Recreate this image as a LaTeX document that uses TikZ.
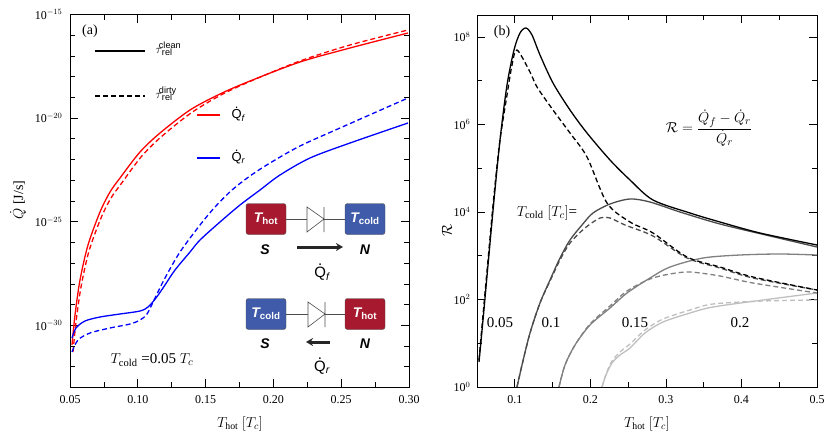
\documentclass[tikz,border=0pt]{standalone}
\usepackage{fontspec}
\usetikzlibrary{arrows.meta}
\setmainfont{Liberation Serif}
\newfontfamily\arial{Liberation Sans}
\begin{document}
\begin{tikzpicture}[x=1pt,y=-1pt,
  frame/.style={line width=0.9pt},
  tk/.style={line width=0.7pt},
  crv/.style={line width=1.3pt},
  dsh/.style={line width=1.3pt,dash pattern=on 5pt off 3pt},
  lbl/.style={font=\fontsize{12}{12}\selectfont},
  sans/.style={font=\arial\fontsize{13}{13}\selectfont},
  tbox/.style={draw=black!70,rounded corners=2.5pt,minimum width=40pt,minimum height=31pt,inner sep=0pt,text=white,font=\arial\bfseries\fontsize{14}{14}\selectfont}]
\useasboundingbox (0,0) rectangle (830,445);
\definecolor{bred}{HTML}{A6192E}
\definecolor{bblue}{HTML}{3F5BA9}
% ---------- panel a ----------
\foreach \k in {0,...,10}{
  \pgfmathsetmacro\xx{70+\k*33.9}
  \pgfmathsetmacro\ll{mod(\k,2)==0?8:5}
  \draw[tk] (\xx,387) -- ++(0,-\ll);
  \draw[tk] (\xx,14.5) -- ++(0,\ll);}
\foreach \k/\t in {0/0.05,2/0.10,4/0.15,6/0.20,8/0.25,10/0.30}
  \node[lbl] (ax\k) at (70+\k*33.9,400) {\t};
\foreach \k in {0,...,18}{
  \pgfmathsetmacro\yy{14.5+\k*20.72}
  \pgfmathsetmacro\ll{mod(\k,5)==0?8:5}
  \draw[tk] (70,\yy) -- ++(\ll,0);
  \draw[tk] (409,\yy) -- ++(-\ll,0);}
\foreach \k/\e in {0/15,5/20,10/25,15/30}
  \node[lbl,anchor=east] (ay\k) at (66,14.5+\k*20.72) {10$^{-\e}$};
\draw[frame] (70,14.5) rectangle (409,387);
\node[lbl,font=\fontsize{14}{14}\selectfont] (axl) at (240,424) {$T_{\rm hot}$ $[T_c]$};
\node[lbl,font=\fontsize{14}{14}\selectfont,rotate=90] (ayl) at (18,200) {$\dot{Q}$ [J/s]};
\node[lbl,font=\fontsize{14}{14}\selectfont] (pa) at (90,31) {(a)};
\begin{scope}
\clip (70,14.5) rectangle (409,387);
\draw[crv,red] plot[smooth] coordinates {(72,345)(75,315)(80,280)(88,245)(100,212)(110,192)(120,178)(140,152)(160,133)(190,110)(220,94)(250,81)(300,62)(350,48)(408,33)};
\draw[dsh,red] plot[smooth] coordinates {(73,352)(76,322)(81,287)(89,251)(101,218)(111,198)(121,184)(141,157)(161,137)(191,113)(221,95)(251,81)(300,61)(350,45)(408,30)};
\draw[crv,blue] plot[smooth] coordinates {(72,338)(76,328)(85,321)(100,317)(120,314)(140,311)(148,307)(156,298)(165,285)(175,270)(190,252)(200,240)(220,222)(240,205)(260,190)(280,175)(310,158)(350,143)(408,123)};
\draw[dsh,blue] plot[smooth] coordinates {(72,352)(78,340)(90,333)(110,328)(130,324)(140,320)(147,314)(155,298)(165,278)(180,252)(200,225)(215,207)(232,190)(250,176)(270,163)(300,146)(340,128)(408,98)};
\end{scope}
\coordinate (l1a) at (95,51); \coordinate (l1b) at (145,51);
\draw[crv] (l1a) -- (l1b);
\node[sans,anchor=west] (t1) at (152,49) {$\tau$\textsubscript{rel}\kern-1.05em\textsuperscript{clean}};
\coordinate (l2a) at (95,96); \coordinate (l2b) at (145,96);
\draw[dsh,black] (l2a) -- (l2b);
\node[sans,anchor=west] (t2) at (152,94) {$\tau$\textsubscript{rel}\kern-1.05em\textsuperscript{dirty}};
\coordinate (l3a) at (197,115); \coordinate (l3b) at (220,115);
\draw[crv,red] (l3a) -- (l3b);
\node[sans,anchor=west] (t3) at (228,114) {Q\llap{\raisebox{0.8em}{.}\kern0.25em}\textsubscript{\itshape f}};
\coordinate (l4a) at (197,158); \coordinate (l4b) at (220,158);
\draw[crv,blue] (l4a) -- (l4b);
\node[sans,anchor=west] (t4) at (228,157) {Q\llap{\raisebox{0.8em}{.}\kern0.25em}\textsubscript{\itshape r}};
\node[lbl,font=\fontsize{15}{15}\selectfont] (tc) at (152,360) {$T_{\rm cold}$ =0.05 $T_c$};
% inset
\node[tbox,fill=bred] (h1) at (266,219) {\itshape T\textsubscript{\upshape hot}};
\node[tbox,fill=bblue] (c1) at (365,219) {\itshape T\textsubscript{\upshape cold}};
\coordinate (d1a) at (307,219); \coordinate (d1b) at (324,219);
\draw[black!70,line width=0.6pt] (h1) -- (d1a) (d1b) -- (c1);
\draw[black!70,line width=0.6pt] (307,207) -- (324,219) -- (307,232) -- cycle (324,207) -- (324,232);
\node[sans,font=\arial\bfseries\itshape\fontsize{14}{14}\selectfont] (s1) at (265,250) {S};
\node[sans,font=\arial\bfseries\itshape\fontsize{14}{14}\selectfont] (n1) at (365,250) {N};
\coordinate (ar1a) at (297,247); \coordinate (ar1b) at (343,247);
\draw[line width=3pt,-{Stealth[length=7pt,width=8pt]},black!85] (ar1a) -- (ar1b);
\node[sans,font=\arial\fontsize{15}{15}\selectfont] (qf) at (322,272) {Q\llap{\raisebox{0.8em}{.}\kern0.25em}\textsubscript{\itshape f}};
\node[tbox,fill=bblue] (c2) at (266,314) {\itshape T\textsubscript{\upshape cold}};
\node[tbox,fill=bred] (h2) at (365,314) {\itshape T\textsubscript{\upshape hot}};
\coordinate (d2a) at (308,314); \coordinate (d2b) at (325,314);
\draw[black!70,line width=0.6pt] (c2) -- (d2a) (d2b) -- (h2);
\draw[black!70,line width=0.6pt] (308,302) -- (325,314) -- (308,327) -- cycle (325,302) -- (325,327);
\node[sans,font=\arial\bfseries\itshape\fontsize{14}{14}\selectfont] (s2) at (265,344) {S};
\node[sans,font=\arial\bfseries\itshape\fontsize{14}{14}\selectfont] (n2) at (365,344) {N};
\coordinate (ar2a) at (330,342); \coordinate (ar2b) at (306,342);
\draw[line width=3pt,-{Stealth[length=7pt,width=8pt]},black!85] (ar2a) -- (ar2b);
\node[sans,font=\arial\fontsize{15}{15}\selectfont] (qr) at (322,366) {Q\llap{\raisebox{0.8em}{.}\kern0.25em}\textsubscript{\itshape r}};
% ---------- panel b ----------
\foreach \k in {0,...,9}{
  \pgfmathsetmacro\xx{477+\k*37.78}
  \pgfmathsetmacro\ll{mod(\k,2)==1?8:5}
  \draw[tk] (\xx,387) -- ++(0,-\ll);
  \draw[tk] (\xx,15) -- ++(0,\ll);}
\foreach \k/\t in {1/0.1,3/0.2,5/0.3,7/0.4,9/0.5}
  \node[lbl] (bx\k) at (477+\k*37.78,400) {\t};
\foreach \k in {0,...,8}{
  \pgfmathsetmacro\yy{387-\k*43.75}
  \pgfmathsetmacro\ll{mod(\k,2)==0?8:5}
  \draw[tk] (477,\yy) -- ++(\ll,0);
  \draw[tk] (817,\yy) -- ++(-\ll,0);}
\foreach \k in {0,2,4,6,8}
  \node[lbl,anchor=east] (by\k) at (474,387-\k*43.75) {10$^{\k}$};
\draw[frame] (477,15) rectangle (817,387);
\node[lbl,font=\fontsize{14}{14}\selectfont] (bxl) at (647,424) {$T_{\rm hot}$ $[T_c]$};
\node[lbl,font=\fontsize{15}{15}\selectfont,rotate=90] (byl) at (447,230) {$\mathcal{R}$};
\node[lbl,font=\fontsize{14}{14}\selectfont] (pb) at (502,32) {(b)};
\node[lbl,font=\fontsize{15}{15}\selectfont] (form) at (709,128) {$\displaystyle\mathcal{R}=\frac{\dot Q_f-\dot Q_r}{\dot Q_r}$};
\node[lbl,font=\fontsize{15}{15}\selectfont] (tcb) at (547,213) {$T_{\rm cold}$ $[T_c]$=};
\node[lbl,font=\fontsize{15}{15}\selectfont] (v1) at (500,323) {0.05};
\node[lbl,font=\fontsize{15}{15}\selectfont] (v2) at (551,323) {0.1};
\node[lbl,font=\fontsize{15}{15}\selectfont] (v3) at (635,323) {0.15};
\node[lbl,font=\fontsize{15}{15}\selectfont] (v4) at (740,323) {0.2};
\begin{scope}
\clip (477,15) rectangle (817,387);
\draw[crv,black!25] plot[smooth] coordinates {(602,387)(606,375)(612,363)(620,355)(630,348)(645,333)(663,322)(690,313)(713,307)(763,300)(817,293)};
\draw[dsh,black!25] plot[smooth] coordinates {(602,387)(606,374)(612,361)(620,352)(630,344)(645,330)(663,319)(690,310)(713,304)(763,301)(817,300)};
\draw[crv,black!50] plot[smooth] coordinates {(559,387)(565,365)(575,345)(590,325)(610,308)(627,293)(650,278)(670,267)(703,258)(740,255)(780,254)(817,255)};
\draw[dsh,black!50] plot[smooth] coordinates {(559,387)(565,365)(575,345)(590,324)(610,306)(627,291)(650,279)(670,274)(690,272)(720,276)(753,283)(817,293)};
\draw[crv,black!70] plot[smooth] coordinates {(517,387)(522,365)(530,333)(540,303)(550,280)(560,258)(570,240)(582,225)(593,213)(610,204)(630,199)(650,202)(680,212)(720,224)(770,236)(817,247)};
\draw[dsh,black!70] plot[smooth] coordinates {(517,387)(522,365)(530,333)(540,303)(550,281)(560,260)(570,243)(585,228)(600,218)(610,218)(625,225)(653,236)(687,258)(720,268)(753,278)(817,290)};
\draw[crv] plot[smooth] coordinates {(479,362)(483,320)(488,265)(494,200)(500,140)(507,85)(514,50)(520,33)(526,28)(532,35)(540,55)(553,83)(570,110)(587,133)(610,160)(630,180)(653,200)(690,213)(720,222)(760,233)(817,245)};
\draw[dsh] plot[smooth] coordinates {(479,360)(483,315)(488,260)(494,195)(500,140)(507,95)(512,65)(517,50)(530,72)(537,87)(553,110)(570,133)(587,157)(607,203)(630,222)(653,233)(687,257)(720,267)(753,277)(817,290)};
\end{scope}
\end{tikzpicture}
\end{document}
